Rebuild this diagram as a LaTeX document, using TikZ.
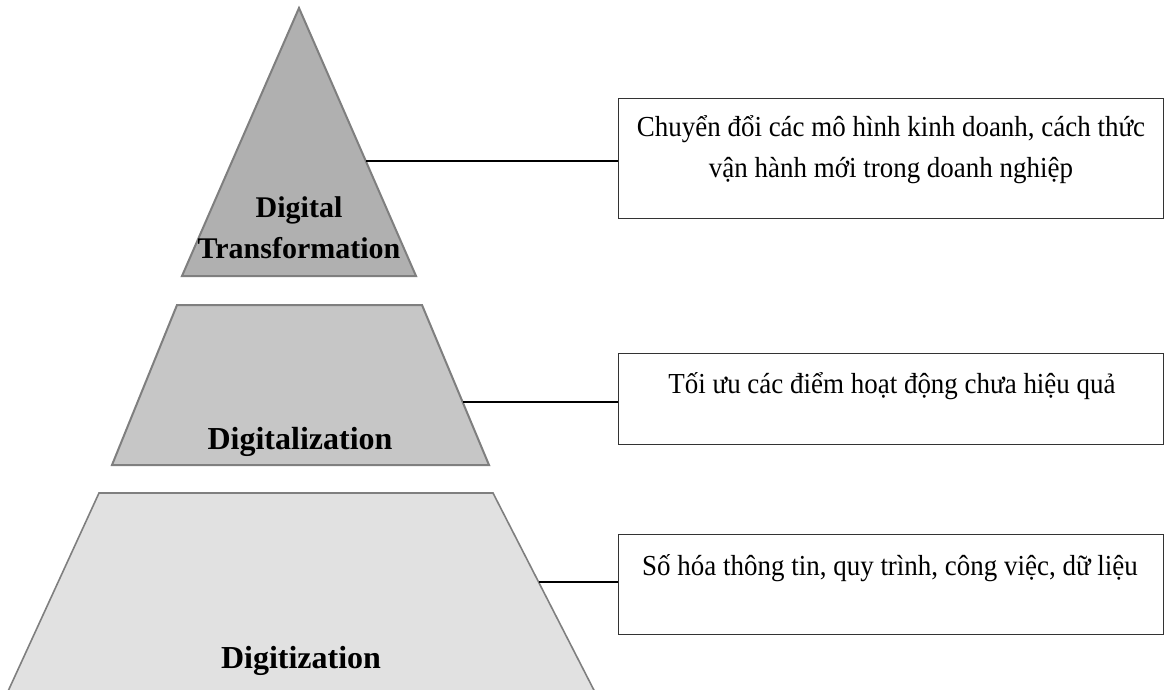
\documentclass[tikz,border=0pt]{standalone}
\usepackage{graphicx}
\usepackage{fontspec}
\setmainfont{Liberation Serif}
\usetikzlibrary{calc}
\definecolor{shapeedge}{HTML}{7F7F7F}
\definecolor{boxedge}{HTML}{333333}
\definecolor{lvlA}{HTML}{B0B0B0}
\definecolor{lvlB}{HTML}{C6C6C6}
\definecolor{lvlC}{HTML}{E1E1E1}
\newcommand{\narrowtext}[1]{\scalebox{0.93}[1]{#1}}
\begin{document}
\begin{tikzpicture}[x=1pt,y=-1pt,
  level/.style={draw=shapeedge, line width=2pt, line join=miter},
  box/.style={draw=boxedge, line width=1.4pt, fill=white, inner sep=0pt, anchor=north west, minimum width=545pt},
  conn/.style={draw=black, line width=2.8pt},
  lvltext/.style={font=\fontsize{32}{38}\selectfont\bfseries, inner sep=0pt, anchor=base},
  boxtext/.style={font=\fontsize{29}{41}\selectfont, inner sep=0pt, anchor=base}]
\useasboundingbox (0,0) rectangle (1165,689);
% levels
\coordinate (apex) at (299,8);
\coordinate (aR) at (416,276);
\coordinate (aL) at (182,276);
\draw[level, fill=lvlA] (apex) -- (aR) -- (aL) -- cycle;
\coordinate (bTL) at (177,305);
\coordinate (bTR) at (422,305);
\coordinate (bBR) at (489,465);
\coordinate (bBL) at (112,465);
\draw[level, fill=lvlB] (bTL) -- (bTR) -- (bBR) -- (bBL) -- cycle;
\coordinate (cTL) at (99,493);
\coordinate (cTR) at (493,493);
\coordinate (cBR) at (599,700);
\coordinate (cBL) at (4,700);
\begin{scope}
\clip (0,0) rectangle (1165,689);
\draw[level, line width=1.6pt, fill=lvlC] (cTL) -- (cTR) -- (cBR) -- (cBL) -- cycle;
\end{scope}
% level labels
\node[inner sep=0pt, anchor=base, font=\fontsize{30}{41}\selectfont\bfseries] (l1) at (299,217)
  {\begin{tabular}[t]{@{}c@{}}Digital\\Transformation\end{tabular}};
\node[lvltext] (l2) at (300,449) {Digitalization};
\node[lvltext] (l3) at (301,668) {Digitization};
% boxes
\node[box, minimum height=120pt] (b1) at (618,98) {};
\node[box, minimum height=91pt] (b2) at (618,353) {};
\node[box, minimum height=100pt] (b3) at (618,534) {};
\node[boxtext] (t1) at (891,136)
  {\narrowtext{\begin{tabular}[t]{@{}c@{}}Chuyển đổi các mô hình kinh doanh, cách thức\\vận hành mới trong doanh nghiệp\end{tabular}}};
\node[boxtext] (t2) at (892,393) {\narrowtext{Tối ưu các điểm hoạt động chưa hiệu quả}};
\node[boxtext] (t3) at (890,575) {\narrowtext{Số hóa thông tin, quy trình, công việc, dữ liệu}};
% connectors
\coordinate (c1) at ($(apex)!0.571!(aR)$);
\coordinate (c2) at ($(bTR)!0.606!(bBR)$);
\coordinate (c3) at ($(cTR)!0.43!(cBR)$);
\draw[conn] (c1) -- (c1 -| b1.west);
\draw[conn] (c2) -- (c2 -| b2.west);
\draw[conn] (c3) -- (c3 -| b3.west);
\end{tikzpicture}
\end{document}
